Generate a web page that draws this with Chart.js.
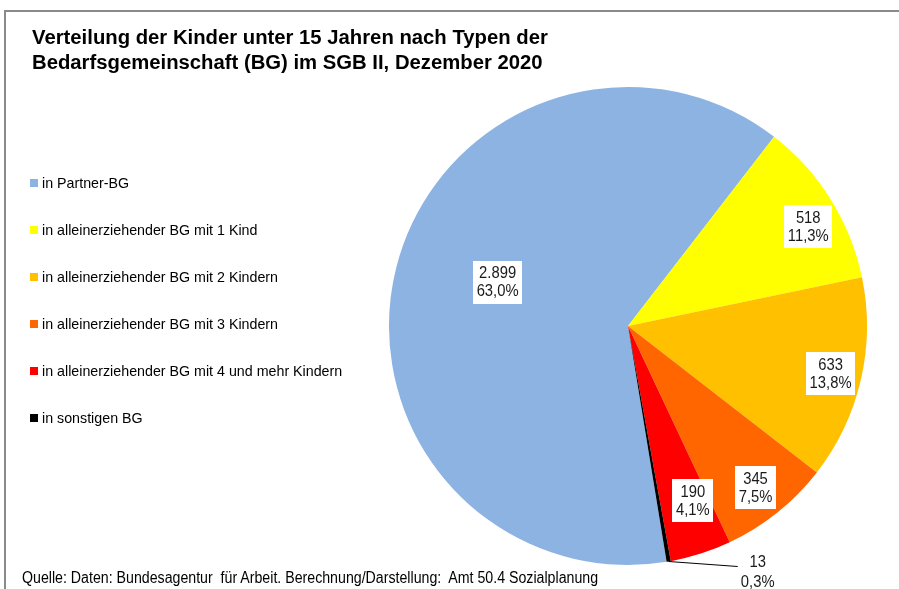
<!DOCTYPE html>
<html>
<head>
<meta charset="utf-8">
<script src="https://cdn.jsdelivr.net/npm/chart.js@4/dist/chart.umd.min.js"></script>
<style>
  html, body { margin: 0; padding: 0; background: #fff; }
  #wrap { position: relative; width: 899px; height: 589px; overflow: hidden; font-family: "Liberation Sans", Arial, sans-serif; color: #000; }
  #frame { position: absolute; left: 4px; top: 10px; width: 900px; height: 600px; border-left: 2px solid #8a8a8a; border-top: 2px solid #8a8a8a; }
  #title { position: absolute; left: 32px; top: 25px; font-weight: bold; font-size: 20.3px; line-height: 25px; white-space: nowrap; transform-origin: left top; }
  #legend { position: absolute; left: 30px; top: 0; }
  .li { position: absolute; left: 0; white-space: nowrap; font-size: 15px; line-height: 18px; height: 18px; }
  .sw { position: absolute; left: 0; top: 5px; width: 8px; height: 8px; }
  .lt { position: absolute; left: 12px; top: 0; display: inline-block; transform: scaleX(0.95); transform-origin: left top; }
  #source { position: absolute; left: 22px; top: 569px; font-size: 16px; line-height: 18px; white-space: nowrap; display: inline-block; transform: scaleX(0.886); transform-origin: left top; }
  canvas { position: absolute; left: 0; top: 0; }
</style>
</head>
<body>
<div id="wrap">
  <div id="frame"></div>
  <canvas id="c" width="899" height="589"></canvas>
  <div id="title">Verteilung der Kinder unter 15 Jahren nach Typen der<br>Bedarfsgemeinschaft (BG) im SGB II, Dezember 2020</div>
  <div id="legend"></div>
  <div id="source">Quelle: Daten: Bundesagentur&nbsp; für Arbeit. Berechnung/Darstellung:&nbsp; Amt 50.4 Sozialplanung</div>
</div>
<script>
const categories = [
  "in Partner-BG",
  "in alleinerziehender BG mit 1 Kind",
  "in alleinerziehender BG mit 2 Kindern",
  "in alleinerziehender BG mit 3 Kindern",
  "in alleinerziehender BG mit 4 und mehr Kindern",
  "in sonstigen BG"
];
const values = [2899, 518, 633, 345, 190, 13];
const valueLabels = ["2.899", "518", "633", "345", "190", "13"];
const percentLabels = ["63,0%", "11,3%", "13,8%", "7,5%", "4,1%", "0,3%"];
const colors = ["#8DB3E2", "#FFFF00", "#FFC000", "#FF6600", "#FF0000", "#000000"];

// HTML legend built from the data arrays
const legendEl = document.getElementById('legend');
const legendTop = 174, legendStep = 47;
categories.forEach((cat, i) => {
  const d = document.createElement('div');
  d.className = 'li';
  d.style.top = (legendTop + i * legendStep) + 'px';
  const sw = document.createElement('span');
  sw.className = 'sw';
  sw.style.background = colors[i];
  const t = document.createElement('span');
  t.className = 'lt';
  t.textContent = cat;
  d.appendChild(sw); d.appendChild(t);
  legendEl.appendChild(d);
});

function narrowText(ctx, text, x, y, sx) {
  ctx.save();
  ctx.translate(x, y);
  ctx.scale(sx, 1);
  ctx.fillText(text, 0, 0);
  ctx.restore();
}

const labelPlugin = {
  id: 'sliceLabels',
  afterDatasetsDraw(chart, args, opts) {
    const ctx = chart.ctx;
    const meta = chart.getDatasetMeta(0);
    const sx = opts.squeeze;
    ctx.save();
    ctx.font = '17px "Liberation Sans", Arial, sans-serif';
    ctx.textAlign = 'center';
    ctx.textBaseline = 'middle';
    const lh = 18;
    meta.data.forEach((arc, i) => {
      const p = arc.getProps(['x', 'y', 'startAngle', 'endAngle', 'outerRadius'], true);
      const mid = (p.startAngle + p.endAngle) / 2;
      const l1 = valueLabels[i], l2 = percentLabels[i];
      if (i < opts.fractions.length) {
        const r = p.outerRadius * opts.fractions[i];
        const cx = p.x + Math.cos(mid) * r + opts.nudge[i][0];
        const cy = p.y + Math.sin(mid) * r + opts.nudge[i][1];
        const w = Math.max(ctx.measureText(l1).width, ctx.measureText(l2).width) * sx + 7;
        const h = 43;
        ctx.fillStyle = '#ffffff';
        ctx.fillRect(Math.round(cx - w / 2), Math.round(cy - h / 2), Math.round(w), h);
        ctx.fillStyle = '#1a1a1a';
        narrowText(ctx, l1, cx, cy - lh / 2 + 0.5, sx);
        narrowText(ctx, l2, cx, cy + lh / 2 + 0.5, sx);
      } else {
        // outside label with leader line
        const sxp = p.x + Math.cos(mid) * p.outerRadius;
        const syp = p.y + Math.sin(mid) * p.outerRadius;
        const ex = sxp + opts.leader[0], ey = syp + opts.leader[1];
        ctx.strokeStyle = '#000';
        ctx.lineWidth = 1;
        ctx.beginPath(); ctx.moveTo(sxp, syp); ctx.lineTo(ex, ey); ctx.stroke();
        const tx = ex + 20, ty = ey - 4;
        ctx.fillStyle = '#1a1a1a';
        narrowText(ctx, l1, tx, ty, sx);
        narrowText(ctx, l2, tx, ty + 20, sx);
      }
    });
    ctx.restore();
  }
};

new Chart(document.getElementById('c'), {
  type: 'pie',
  data: {
    labels: categories,
    datasets: [{
      data: values,
      backgroundColor: colors,
      borderWidth: 0,
      hoverOffset: 0
    }]
  },
  options: {
    responsive: false,
    animation: false,
    devicePixelRatio: 1,
    rotation: 170.7,
    layout: { padding: { left: 389, top: 87, right: 32, bottom: 24 } },
    plugins: {
      legend: { display: false },
      tooltip: { enabled: false },
      title: { display: false },
      sliceLabels: {
        fractions: [0.58, 0.86, 0.87, 0.86, 0.78],
        nudge: [[4, -10], [6, 10], [0, 1], [-1, 1], [8, -3]],
        leader: [69, 5],
        squeeze: 0.87
      }
    }
  },
  plugins: [labelPlugin]
});
</script>
</body>
</html>
